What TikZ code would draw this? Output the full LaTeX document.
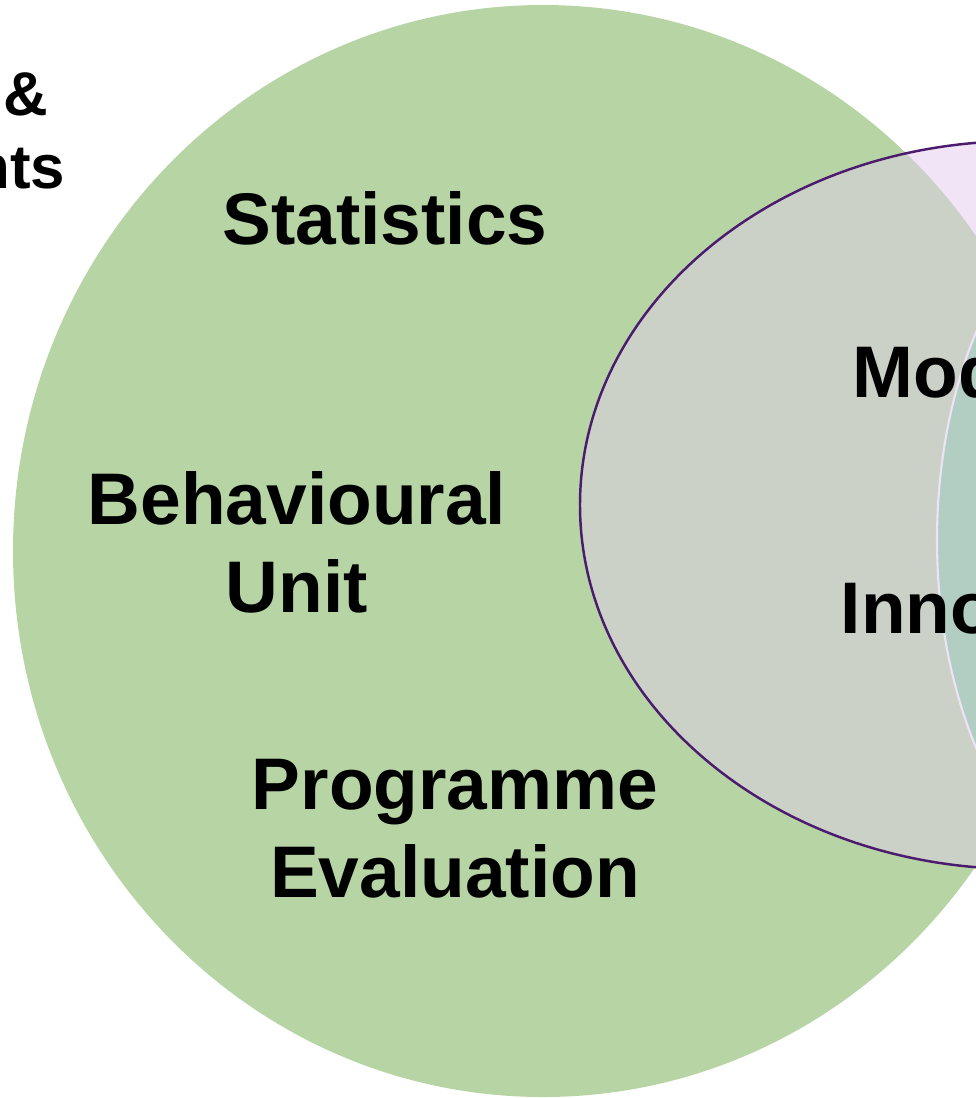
\documentclass[tikz,border=0pt]{standalone}
\usepackage{fontspec}
\setmainfont{Liberation Sans}
\definecolor{vgreen}{HTML}{B7D5A4}
\definecolor{vgray}{HTML}{CCD1C8}
\definecolor{vlilac}{HTML}{F0E4F6}
\definecolor{vteal}{HTML}{B2CEC2}
\definecolor{vpurple}{HTML}{4B1C6E}
\definecolor{vpale}{HTML}{EEE3F6}
\begin{document}
\begin{tikzpicture}[x=0.1mm, y=-0.1mm,
                    every node/.style={font=\fontsize{20.8}{25}\selectfont\bfseries, align=center, inner sep=0pt},
                    side/.style={font=\fontsize{17.6}{20.8}\selectfont\bfseries}]
\useasboundingbox (0,0) rectangle (976,1098);
\clip (0,0) rectangle (976,1098);
\fill[vgreen] (543,551) ellipse [x radius=530, y radius=546];
\fill[vlilac] (1020,505) ellipse [x radius=440, y radius=364];
\begin{scope}
    \clip (543,551) ellipse [x radius=530, y radius=546];
    \fill[vgray] (1020,505) ellipse [x radius=440, y radius=364];
\end{scope}
\draw[vpale, fill=vteal, line width=0.6pt] (1177,540) ellipse [x radius=240, y radius=380];
\draw[vpurple, line width=0.7pt] (1020,505) ellipse [x radius=440, y radius=364];
\node (stats) at (385,218) {Statistics};
\node (behav) at (297,542) {Behavioural\\Unit};
\node (progeval) at (455,829) {Programme\\Evaluation};
\node[anchor=base west] (model) at (852,397) {Mod};
\node[anchor=base west] (innov) at (840,633) {Inno};
\node[side, anchor=base east] (amp) at (49,115) {\&};
\node[side, anchor=base east] (ments) at (66,188) {nts};
\end{tikzpicture}
\end{document}
